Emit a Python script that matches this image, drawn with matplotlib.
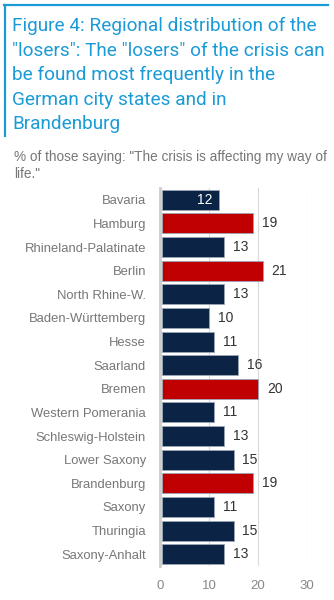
import matplotlib
matplotlib.use("Agg")
import matplotlib.pyplot as plt
from matplotlib.lines import Line2D

plt.rcParams['font.family'] = ['Liberation Sans', 'DejaVu Sans']

states = ["Bavaria", "Hamburg", "Rhineland-Palatinate", "Berlin", "North Rhine-W.",
          "Baden-Württemberg", "Hesse", "Saarland", "Bremen", "Western Pomerania",
          "Schleswig-Holstein", "Lower Saxony", "Brandenburg", "Saxony", "Thuringia",
          "Saxony-Anhalt"]
values = [12, 19, 13, 21, 13, 10, 11, 16, 20, 11, 13, 15, 19, 11, 15, 13]
highlight = ["Hamburg", "Berlin", "Bremen", "Brandenburg"]
xticks = [0, 10, 20, 30]

title = ('Figure 4: Regional distribution of the\n"losers": The "losers" of the crisis can\n'
         'be found most frequently in the\nGerman city states and in\nBrandenburg')
subtitle = '% of those saying: "The crisis is affecting my way of\nlife."'

NAVY = "#0b2344"
RED = "#c00000"
BLUE = "#1a9bd7"

W, H = 334, 600
fig = plt.figure(figsize=(W / 100, H / 100), dpi=100)

# title frame: top and left rules
fig.add_artist(Line2D([4 / W, 328 / W], [1 - 5 / H, 1 - 5 / H], color=BLUE, lw=1.6,
                      transform=fig.transFigure))
fig.add_artist(Line2D([5 / W, 5 / W], [1 - 5 / H, 1 - 136 / H], color=BLUE, lw=1.6,
                      transform=fig.transFigure))
fig.text(12 / W, 1 - 17 / H, title, color=BLUE, fontsize=13.7, va="top", ha="left",
         family=["Roboto", "DejaVu Sans"], linespacing=1.46)
fig.text(14 / W, 1 - 150 / H, subtitle, color="#777777", fontsize=9.8, va="top", ha="left",
         linespacing=1.3)

left, right, top, bottom = 160, 307, 188, 566
ax = fig.add_axes([left / W, 1 - bottom / H, (right - left) / W, (bottom - top) / H])

ypos = list(range(len(states)))
colors = [RED if s in highlight else NAVY for s in states]
start = 0.4
ax.barh(ypos, [v - start for v in values], height=0.85, color=colors, edgecolor="#9aa5b5",
        linewidth=0.6, left=start, zorder=3)

for y, v in zip(ypos, values):
    if y == 0:
        ax.text(v - 1.2, y, str(v), color="white", fontsize=10, va="center", ha="right",
                zorder=4)
    else:
        ax.text(v + 1.8, y, str(v), color="#333333", fontsize=10, va="center", ha="left",
                zorder=4)

ax.set_xlim(0, 30)
ax.set_ylim(len(states) - 0.5, -0.5)
ax.set_yticks(ypos)
ax.set_yticklabels(states, fontsize=9.4, color="#777777")
ax.set_xticks(xticks)
ax.set_xticklabels([str(t) for t in xticks], fontsize=9.5, color="#888888")
ax.tick_params(length=0)
ax.tick_params(axis="y", pad=10)
ax.tick_params(axis="x", pad=10)
ax.grid(axis="x", color="#d9d9d9", lw=0.8, zorder=0)
for side in ["top", "right", "bottom"]:
    ax.spines[side].set_visible(False)
ax.spines["left"].set_color("#cccccc")
ax.spines["left"].set_linewidth(2.0)
ax.set_facecolor("white")

fig.savefig("out.png", dpi=100)
